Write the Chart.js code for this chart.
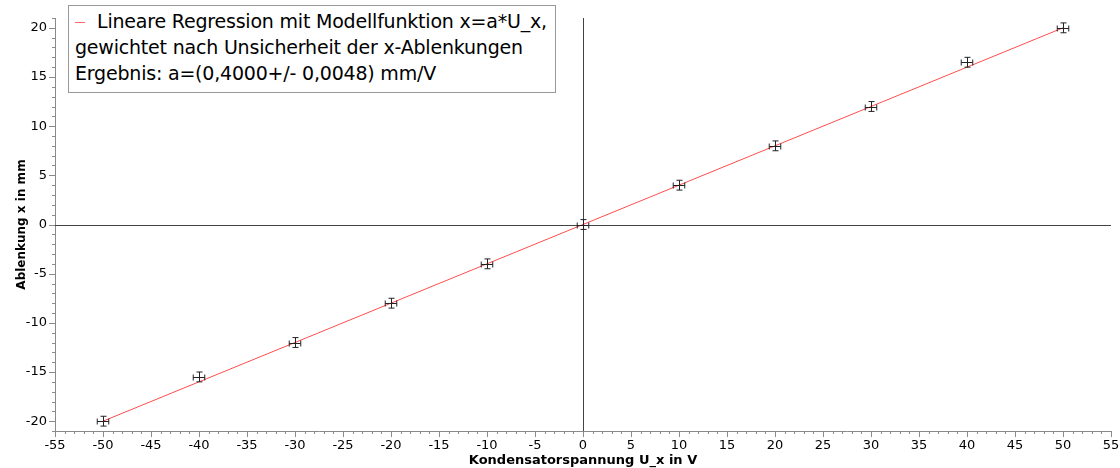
<!DOCTYPE html>
<html>
<head>
<meta charset="utf-8">
<script src="https://cdn.jsdelivr.net/npm/chart.js@4.4.1/dist/chart.umd.min.js"></script>
<style>
  html, body { margin: 0; padding: 0; background: #fff; }
  #wrap { position: relative; width: 1120px; height: 468px; }
  #legendBox {
    position: absolute; left: 68px; top: 5px; width: 488px; height: 88px;
    border: 1px solid #999; background: #fff; box-sizing: border-box;
    font-family: "DejaVu Sans", sans-serif; font-size: 19px; line-height: 26px;
    padding: 2px 0 0 6px; color: #000; white-space: nowrap; letter-spacing: -0.2px;
  }
  #legendBox .mark { display: inline-block; width: 10px; height: 1px; background: #ff6a6a; vertical-align: middle; margin-right: 12px; }
</style>
</head>
<body>
<div id="wrap">
  <canvas id="chart" width="1120" height="468"></canvas>
  <div id="legendBox">
    <div><span class="mark"></span>Lineare Regression mit Modellfunktion x=a*U_x,</div>
    <div>gewichtet nach Unsicherheit der x-Ablenkungen</div>
    <div>Ergebnis: a=(0,4000+/- 0,0048) mm/V</div>
  </div>
</div>
<script>
// measured values
const voltages = [-50, -40, -30, -20, -10, 0, 10, 20, 30, 40, 50];
const deflections = [-20, -15.5, -12, -8, -4, 0, 4, 8, 12, 16.5, 20];
const voltageErrors = [0.6, 0.6, 0.6, 0.6, 0.6, 0.6, 0.6, 0.6, 0.6, 0.6, 0.6];
const deflectionErrors = [0.5, 0.5, 0.5, 0.5, 0.5, 0.5, 0.5, 0.5, 0.5, 0.5, 0.5];

// fit result x = a * U_x
const fitSlope = 0.4;
const fitRange = [-50, 50];

// axes
const xTicks = [-55, -50, -45, -40, -35, -30, -25, -20, -15, -10, -5, 0, 5, 10, 15, 20, 25, 30, 35, 40, 45, 50, 55];
const yTicks = [-20, -15, -10, -5, 0, 5, 10, 15, 20];
const xLimits = [-55, 55];
const yLimits = [-21, 21];

const axisColor = '#8a8a8a';
const fontFamily = '"DejaVu Sans", sans-serif';

// zero lines behind the data
const zeroLines = {
    id: 'zeroLines',
    beforeDatasetsDraw(chart) {
        const { ctx, chartArea, scales } = chart;
        const x0 = Math.round(scales.x.getPixelForValue(0)) + 0.5;
        const y0 = Math.round(scales.y.getPixelForValue(0)) + 0.5;
        ctx.save();
        ctx.strokeStyle = '#444';
        ctx.lineWidth = 1;
        ctx.beginPath();
        ctx.moveTo(x0, chartArea.top);
        ctx.lineTo(x0, chartArea.bottom);
        ctx.moveTo(chartArea.left, y0);
        ctx.lineTo(chartArea.right, y0);
        ctx.stroke();
        ctx.restore();
    }
};

// major and minor ticks, outward
const axisTicks = {
    id: 'axisTicks',
    afterDraw(chart) {
        const { ctx, chartArea, scales } = chart;
        ctx.save();
        ctx.strokeStyle = axisColor;
        ctx.lineWidth = 1;
        ctx.beginPath();
        for (let v = xLimits[0]; v <= xLimits[1]; v++) {
            const px = Math.round(scales.x.getPixelForValue(v)) + 0.5;
            const len = v % 5 === 0 ? 6 : 3;
            ctx.moveTo(px, chartArea.bottom);
            ctx.lineTo(px, chartArea.bottom + len);
        }
        for (let v = yLimits[0]; v <= yLimits[1]; v++) {
            const py = Math.round(scales.y.getPixelForValue(v)) + 0.5;
            const len = v % 5 === 0 ? 6 : 3;
            ctx.moveTo(chartArea.left, py);
            ctx.lineTo(chartArea.left - len, py);
        }
        ctx.stroke();
        ctx.restore();
    }
};

// error bars for the measurement dataset
const errorBars = {
    id: 'errorBars',
    afterDatasetsDraw(chart) {
        const { ctx, scales } = chart;
        const cap = 3;
        ctx.save();
        ctx.strokeStyle = '#222';
        ctx.lineWidth = 1;
        ctx.beginPath();
        voltages.forEach((u, i) => {
            const px = Math.round(scales.x.getPixelForValue(u)) + 0.5;
            const py = Math.round(scales.y.getPixelForValue(deflections[i])) + 0.5;
            const xl = scales.x.getPixelForValue(u - voltageErrors[i]);
            const xr = scales.x.getPixelForValue(u + voltageErrors[i]);
            const yt = scales.y.getPixelForValue(deflections[i] + deflectionErrors[i]);
            const yb = scales.y.getPixelForValue(deflections[i] - deflectionErrors[i]);
            ctx.moveTo(xl, py); ctx.lineTo(xr, py);
            ctx.moveTo(xl, py - cap); ctx.lineTo(xl, py + cap);
            ctx.moveTo(xr, py - cap); ctx.lineTo(xr, py + cap);
            ctx.moveTo(px, yt); ctx.lineTo(px, yb);
            ctx.moveTo(px - cap, yt); ctx.lineTo(px + cap, yt);
            ctx.moveTo(px - cap, yb); ctx.lineTo(px + cap, yb);
        });
        ctx.stroke();
        ctx.restore();
    }
};

const measurementData = voltages.map((u, i) => ({ x: u, y: deflections[i] }));
const fitData = fitRange.map(u => ({ x: u, y: fitSlope * u }));

new Chart(document.getElementById('chart').getContext('2d'), {
    type: 'scatter',
    data: {
        datasets: [
            {
                label: 'Messwerte',
                data: measurementData,
                pointRadius: 0,
                showLine: false
            },
            {
                label: 'Lineare Regression',
                data: fitData,
                showLine: true,
                borderColor: '#ff4d4d',
                borderWidth: 1,
                pointRadius: 0
            }
        ]
    },
    options: {
        responsive: false,
        animation: false,
        layout: { padding: { top: 18, right: 9, left: 15, bottom: 0 } },
        plugins: { legend: { display: false }, tooltip: { enabled: false } },
        scales: {
            x: {
                type: 'linear',
                min: xLimits[0],
                max: xLimits[1],
                afterBuildTicks: scale => { scale.ticks = xTicks.map(v => ({ value: v })); },
                afterFit: scale => { scale.height = 37; scale.paddingRight = 0; scale.paddingLeft = 0; },
                grid: { display: false, drawTicks: false },
                border: { display: true, color: axisColor },
                ticks: { color: '#000', padding: 7, font: { family: fontFamily, size: 13 }, maxRotation: 0, autoSkip: false },
                title: { display: true, text: 'Kondensatorspannung U_x in V', color: '#000', padding: 0, font: { family: fontFamily, size: 13, weight: 'bold' } }
            },
            y: {
                type: 'linear',
                min: yLimits[0],
                max: yLimits[1],
                afterBuildTicks: scale => { scale.ticks = yTicks.map(v => ({ value: v })); },
                afterFit: scale => { scale.width = 40; },
                grid: { display: false, drawTicks: false },
                border: { display: true, color: axisColor },
                ticks: { color: '#000', padding: 8, font: { family: fontFamily, size: 13 }, autoSkip: false },
                title: { display: true, text: 'Ablenkung x in mm', color: '#000', padding: 0, font: { family: fontFamily, size: 12, weight: 'bold' } }
            }
        }
    },
    plugins: [zeroLines, errorBars, axisTicks]
});
</script>
</body>
</html>
